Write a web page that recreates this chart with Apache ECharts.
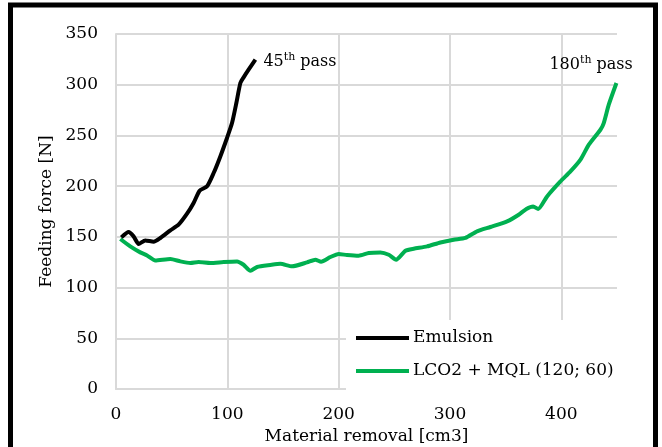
<!DOCTYPE html>
<html>
<head>
<meta charset="utf-8">
<script src="https://cdn.jsdelivr.net/npm/echarts@6/dist/echarts.min.js"></script>
<style>
  html, body { margin: 0; padding: 0; background: #fff; }
  #chart { width: 662px; height: 447px; }
</style>
</head>
<body>
<div id="chart"></div>
<script>
// material removal [cm3] / feeding force [N]
const emulsionX = [4.8, 11.3, 15.8, 20.3, 26.3, 33.8, 39.8, 48.8, 56.2, 63.8, 69.7, 75.1, 81.8, 87.7, 93.7, 99.7, 104.2, 108.1, 111.7, 114.5, 119.1, 125.2];
const emulsionY = [149.5, 154.8, 150.5, 143, 146.5, 145.2, 148.9, 156.4, 162, 172.8, 183.4, 195.5, 199.8, 212.9, 229.3, 247.5, 262.2, 282, 301.7, 307, 314.8, 324.7];

const lco2X = [3.9, 12.8, 21.8, 27.9, 35.3, 48.8, 57.8, 66.8, 74.2, 84.7, 96.7, 108.7, 114.6, 120.7, 126.7, 138.6, 147.6, 158.1, 171.6, 179.1, 184.2, 192.5, 200, 207.5, 218, 227, 237.5, 245, 251.6, 260, 267.4, 279.4, 291.4, 303.3, 313.8, 324.3, 336.3, 351.3, 361.7, 368.6, 374.7, 379.2, 387.2, 399.2, 408.2, 417.2, 424.7, 435.1, 438.1, 442.6, 449.5];
const lco2Y = [147.9, 140.6, 134.7, 131.7, 126.8, 128.2, 125.8, 124.2, 125.2, 124.2, 125.2, 125.8, 122.5, 116.6, 120.3, 122.3, 123.5, 120.9, 124.8, 127.5, 125.5, 130.1, 133.1, 132.1, 131.4, 134.1, 134.7, 132.4, 127.5, 136.3, 138.3, 140.6, 144.5, 147.2, 148.9, 155.4, 159.7, 165.3, 171.8, 177.5, 180, 177.5, 189.9, 204.7, 214.5, 226.1, 240.9, 255.6, 262.2, 280.3, 301.7];

const seriesNames = ['Emulsion', 'LCO2 + MQL (120; 60)'];
const endLabels = ['{n|45}{s|th}{n| pass}', '{n|180}{s|th}{n| pass}'];

const FONT = '"DejaVu Serif", "Liberation Serif", serif';

const chart = echarts.init(document.getElementById('chart'));

function pairs(xs, ys) {
  return xs.map((x, i) => [x, ys[i]]);
}

const richText = {
  n: { fontFamily: FONT, fontSize: 16, color: '#000', lineHeight: 20 },
  s: { fontFamily: FONT, fontSize: 11, color: '#000', verticalAlign: 'top', lineHeight: 11 }
};

const option = {
  animation: false,
  backgroundColor: '#fff',
  textStyle: { fontFamily: FONT },
  graphic: [
    {
      type: 'rect',
      z: 100,
      shape: { x: 10.5, y: 5, width: 645, height: 470 },
      style: { fill: 'none', stroke: '#000', lineWidth: 5 }
    }
  ],
  grid: { left: 116, right: 45, top: 34, bottom: 58, outerBoundsMode: 'none' },
  legend: {
    orient: 'vertical',
    left: 346,
    top: 320,
    width: 271,
    padding: [9, 10, 10, 10],
    backgroundColor: '#fff',
    icon: 'rect',
    itemWidth: 53,
    itemHeight: 4,
    itemGap: 15,
    textStyle: { fontFamily: FONT, fontSize: 17, color: '#000', padding: [0, 0, 0, -1], lineHeight: 18 },
    data: seriesNames
  },
  xAxis: {
    type: 'value',
    min: 0,
    max: 450,
    interval: 100,
    name: 'Material removal [cm3]',
    nameLocation: 'middle',
    nameGap: 38,
    nameTextStyle: { fontFamily: FONT, fontSize: 17, color: '#000' },
    axisLine: { show: true, lineStyle: { color: '#d9d9d9', width: 2 } },
    axisTick: { show: false },
    axisLabel: { fontFamily: FONT, fontSize: 17, color: '#000', margin: 17, showMaxLabel: false },
    splitLine: { show: true, showMaxLine: false, lineStyle: { color: '#d9d9d9', width: 2 } }
  },
  yAxis: {
    type: 'value',
    min: 0,
    max: 350,
    interval: 50,
    name: 'Feeding force [N]',
    nameLocation: 'middle',
    nameGap: 60,
    nameTextStyle: { fontFamily: FONT, fontSize: 17, color: '#000' },
    axisLine: { show: true, lineStyle: { color: '#d9d9d9', width: 2 } },
    axisTick: { show: false },
    axisLabel: { fontFamily: FONT, fontSize: 17, color: '#000', margin: 18 },
    splitLine: { show: true, lineStyle: { color: '#d9d9d9', width: 2 } }
  },
  series: [
    {
      name: seriesNames[0],
      type: 'line',
      data: pairs(emulsionX, emulsionY),
      showSymbol: false,
      symbol: 'none',
      smooth: 0.2,
      z: 3,
      lineStyle: { color: '#000', width: 4 },
      itemStyle: { color: '#000' },
      endLabel: {
        show: true,
        formatter: endLabels[0],
        rich: richText,
        distance: 8,
        offset: [0, 2]
      }
    },
    {
      name: seriesNames[1],
      type: 'line',
      data: pairs(lco2X, lco2Y),
      showSymbol: false,
      symbol: 'none',
      smooth: 0.2,
      z: 2,
      lineStyle: { color: '#00b050', width: 4 },
      itemStyle: { color: '#00b050' },
      endLabel: {
        show: true,
        formatter: endLabels[1],
        rich: richText,
        distance: 0,
        offset: [-67, -18]
      }
    }
  ]
};

chart.setOption(option);
</script>
</body>
</html>
